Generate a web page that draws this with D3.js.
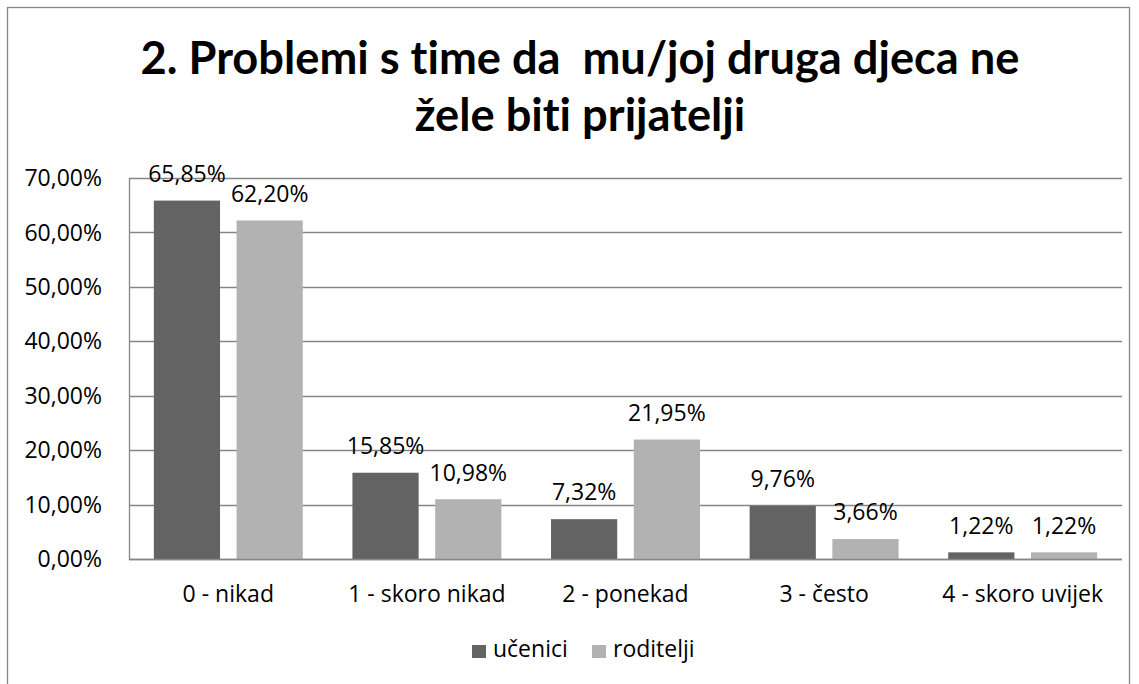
<!DOCTYPE html>
<html>
<head>
<meta charset="utf-8">
<script src="https://cdn.jsdelivr.net/npm/d3@7"></script>
<style>
  html, body { margin: 0; padding: 0; background: #fff; }
  svg { display: block; }
  text { font-family: "Open Sans", "Liberation Sans", sans-serif; fill: #000; white-space: pre; }
  .title { font-family: Lato, "Open Sans", sans-serif; font-weight: bold; font-variant-ligatures: none; font-feature-settings: "liga" 0, "dlig" 0; }
</style>
</head>
<body>
<svg id="chart" width="1139" height="684"></svg>
<script>
const titleLines = ["2. Problemi s time da  mu/joj druga djeca ne", "žele biti prijatelji"];
const categories = ["0 - nikad", "1 - skoro nikad", "2 - ponekad", "3 - često", "4 - skoro uvijek"];
const seriesNames = ["učenici", "roditelji"];
const ucenici = [65.85, 15.85, 7.32, 9.76, 1.22];
const roditelji = [62.20, 10.98, 21.95, 3.66, 1.22];
const yTicks = [0, 10, 20, 30, 40, 50, 60, 70];

const colors = { "učenici": "#636363", "roditelji": "#b2b2b2" };
const gridColor = "#868686";
const fmt = v => v.toFixed(2).replace(".", ",") + "%";

const svg = d3.select("#chart");
const plot = { left: 129, right: 1122, top: 178, bottom: 559 };

// outer chart border
svg.append("rect")
  .attr("x", 7.5).attr("y", 7.5)
  .attr("width", 1122).attr("height", 720)
  .attr("fill", "none").attr("stroke", gridColor).attr("stroke-width", 1.3);

// title
const tl = svg.append("g").selectAll("text").data(titleLines).enter().append("text")
  .attr("class", "title")
  .attr("x", 580).attr("y", (d, i) => 73.5 + i * 57)
  .attr("text-anchor", "middle")
  .style("font-size", "40px")
  .text(d => d);
// fit first line to its measured width in the reference
const w0 = tl.nodes()[0].getComputedTextLength();
const fs = 40 * 879 / w0;
tl.style("font-size", fs + "px");

// scales
const y = d3.scaleLinear().domain([0, 70]).range([plot.bottom, plot.top]);
const x0 = d3.scaleBand().domain(categories).range([plot.left, plot.right]).paddingInner(0).paddingOuter(0);
const x1 = d3.scaleBand().domain(seriesNames).range([0, x0.bandwidth()]).paddingInner(0.2).paddingOuter(0.3);

// gridlines
svg.append("g").selectAll("line").data(yTicks).enter().append("line")
  .attr("x1", plot.left).attr("x2", plot.right)
  .attr("y1", d => Math.round(y(d)) + 0.5).attr("y2", d => Math.round(y(d)) + 0.5)
  .attr("stroke", gridColor).attr("stroke-width", 1.3);

// y axis line
svg.append("line")
  .attr("x1", plot.left + 0.5).attr("x2", plot.left + 0.5)
  .attr("y1", Math.round(plot.top)).attr("y2", Math.round(plot.bottom) + 1)
  .attr("stroke", gridColor).attr("stroke-width", 1.3);

// y tick labels
svg.append("g").selectAll("text").data(yTicks).enter().append("text")
  .attr("x", 102).attr("y", d => y(d) + 8.2)
  .attr("text-anchor", "end")
  .style("font-size", "23px")
  .text(d => fmt(d));

// bars
const rows = categories.map((c, i) => ({ cat: c, vals: [
  { s: "učenici", v: ucenici[i] }, { s: "roditelji", v: roditelji[i] } ] }));

const groups = svg.append("g").selectAll("g").data(rows).enter().append("g")
  .attr("transform", d => `translate(${x0(d.cat)},0)`);

groups.selectAll("rect").data(d => d.vals).enter().append("rect")
  .attr("x", d => x1(d.s)).attr("width", x1.bandwidth())
  .attr("y", d => y(d.v)).attr("height", d => y(0) - y(d.v))
  .attr("fill", d => colors[d.s]);

// redraw baseline over bars
svg.append("line")
  .attr("x1", plot.left).attr("x2", plot.right)
  .attr("y1", Math.round(y(0)) + 0.5).attr("y2", Math.round(y(0)) + 0.5)
  .attr("stroke", gridColor).attr("stroke-width", 1.3);

// value labels
groups.selectAll("text").data(d => d.vals).enter().append("text")
  .attr("x", d => x1(d.s) + x1.bandwidth() / 2)
  .attr("y", d => y(d.v) - 18.7)
  .attr("text-anchor", "middle")
  .style("font-size", "23px")
  .text(d => fmt(d.v));

// category labels
svg.append("g").selectAll("text").data(categories).enter().append("text")
  .attr("x", d => x0(d) + x0.bandwidth() / 2)
  .attr("y", 602)
  .attr("text-anchor", "middle")
  .style("font-size", "23px")
  .text(d => d);

// legend
const legendX = [472, 592];
const leg = svg.append("g").selectAll("g").data(seriesNames).enter().append("g")
  .attr("transform", (d, i) => `translate(${legendX[i]},0)`);
leg.append("rect").attr("x", 0).attr("y", 645).attr("width", 14).attr("height", 13)
  .attr("fill", d => colors[d]);
leg.append("text").attr("x", 21).attr("y", 657)
  .style("font-size", "23px")
  .text(d => d);
</script>
</body>
</html>
